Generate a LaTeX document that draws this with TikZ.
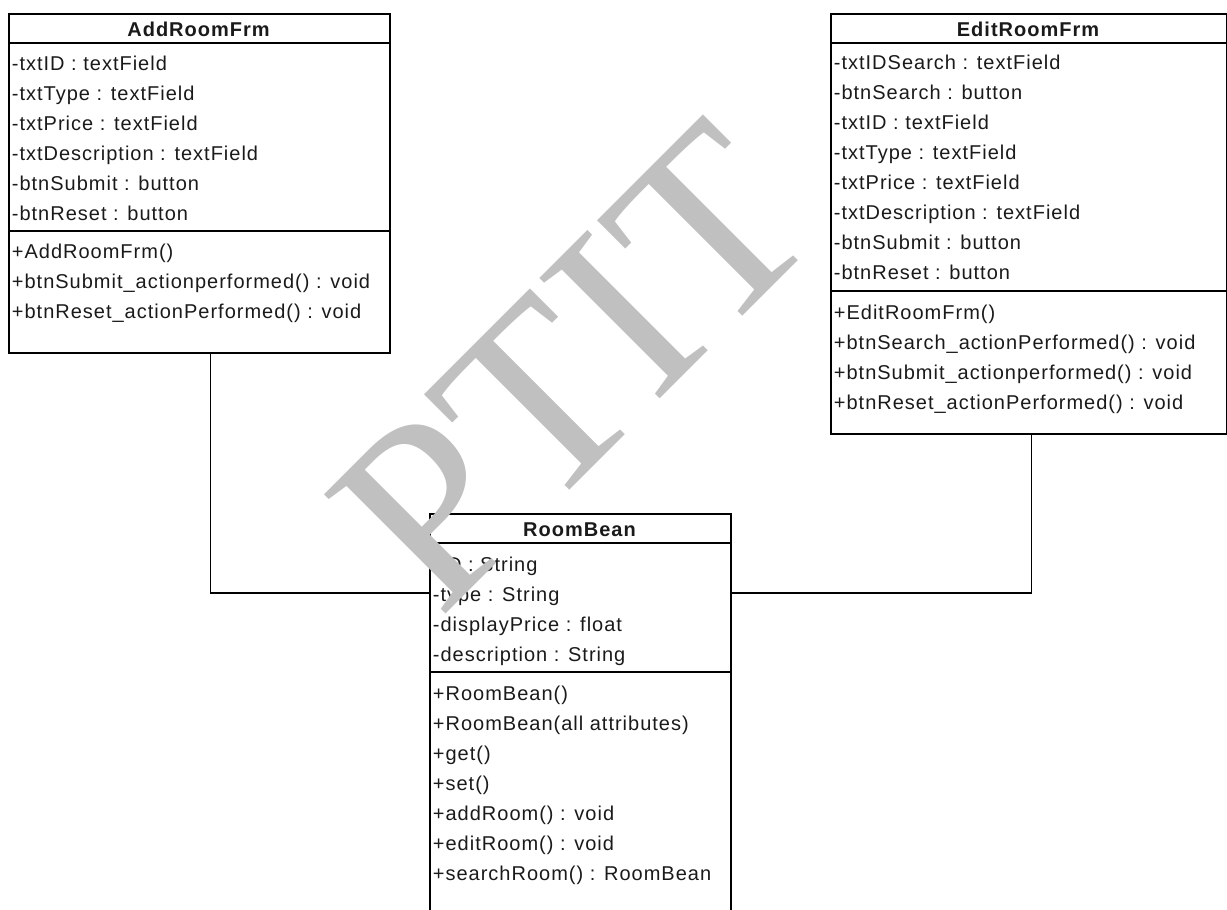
\documentclass[tikz,border=0pt]{standalone}
\usepackage{fontspec}
\newfontfamily\umlfont{Liberation Sans}[LetterSpace=5]
\newfontfamily\markfont{Liberation Serif}
\definecolor{umltext}{HTML}{1A1A1A}
\definecolor{markgray}{HTML}{C0C0C0}

\begin{document}
\begin{tikzpicture}[x=0.5pt,y=-0.5pt,
  classbox/.style={draw=black, line width=0.75pt, inner sep=0pt, anchor=north west},
  classname/.style={font=\umlfont\bfseries\fontsize{10}{11}\selectfont, text=umltext, inner sep=0pt, anchor=base},
  member/.style={font=\umlfont\fontsize{10}{11}\selectfont, text=umltext, inner sep=0pt, anchor=base west},
  divider/.style={line width=0.75pt},
  link/.style={line width=0.7pt},
  watermark/.style={font=\markfont\fontsize{130}{130}\selectfont, text=markgray, inner sep=0pt, rotate=45}]

\useasboundingbox (0,0) rectangle (1227,910);
\clip (0,0) rectangle (1227,910);

% ---------- AddRoomFrm ----------
\node[classbox, minimum width=190.5pt, minimum height=169.5pt] (add) at (8,13) {};
\node[classname] (addName) at (198.5,36) {AddRoomFrm};
\draw[divider] (8,43) -- (389,43);
\draw[divider] (8,231) -- (389,231);
\foreach \t [count=\i from 0] in {%
  {-txtID : textField},
  {-txtType : textField},
  {-txtPrice : textField},
  {-txtDescription : textField},
  {-btnSubmit : button},
  {-btnReset : button}}
  \node[member] (addAttr\i) at (11.5,70+30*\i) {\t};
\foreach \t [count=\i from 0] in {%
  {+AddRoomFrm()},
  {+btnSubmit\_actionperformed() : void},
  {+btnReset\_actionPerformed() : void}}
  \node[member] (addOp\i) at (11.5,258+30*\i) {\t};

% ---------- EditRoomFrm ----------
\node[classbox, minimum width=198pt, minimum height=210pt] (edit) at (830,13) {};
\node[classname] (editName) at (1028,36) {EditRoomFrm};
\draw[divider] (830,43) -- (1226,43);
\draw[divider] (830,291) -- (1226,291);
\foreach \t [count=\i from 0] in {%
  {-txtIDSearch : textField},
  {-btnSearch : button},
  {-txtID : textField},
  {-txtType : textField},
  {-txtPrice : textField},
  {-txtDescription : textField},
  {-btnSubmit : button},
  {-btnReset : button}}
  \node[member] (editAttr\i) at (833.5,69+30*\i) {\t};
\foreach \t [count=\i from 0] in {%
  {+EditRoomFrm()},
  {+btnSearch\_actionPerformed() : void},
  {+btnSubmit\_actionperformed() : void},
  {+btnReset\_actionPerformed() : void}}
  \node[member] (editOp\i) at (833.5,319+30*\i) {\t};

% ---------- RoomBean ----------
\node[classbox, minimum width=150.5pt, minimum height=240pt] (bean) at (429,513) {};
\node[classname] (beanName) at (579.5,536) {RoomBean};
\draw[divider] (429,543) -- (730,543);
\draw[divider] (429,672) -- (730,672);
\foreach \t [count=\i from 0] in {%
  {-ID : String},
  {-type : String},
  {-displayPrice : float},
  {-description : String}}
  \node[member] (beanAttr\i) at (432.5,571+30*\i) {\t};
\foreach \t [count=\i from 0] in {%
  {+RoomBean()},
  {+RoomBean(all attributes)},
  {+get()},
  {+set()},
  {+addRoom() : void},
  {+editRoom() : void},
  {+searchRoom() : RoomBean}}
  \node[member] (beanOp\i) at (432.5,700+30*\i) {\t};

% ---------- associations ----------
\draw[link] ([xshift=5.75pt]add.south) |- ([yshift=-40pt]bean.north west);
\draw[link] ([xshift=1.5pt]edit.south) |- ([yshift=-40pt]bean.north east);

% ---------- watermark ----------
\node[watermark] (mark) at (573,366) {PTIT};
\end{tikzpicture}
\end{document}
